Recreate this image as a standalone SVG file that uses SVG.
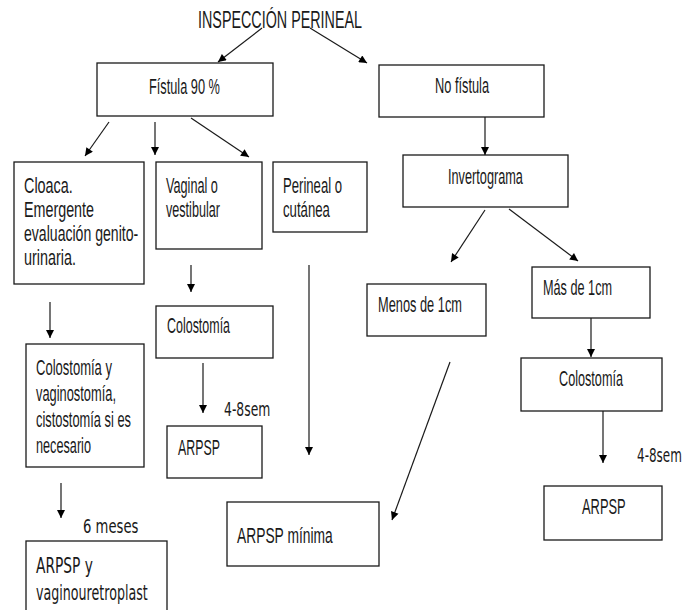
<svg xmlns="http://www.w3.org/2000/svg" width="700" height="610" viewBox="0 0 700 610">
<style>
.box{fill:#fff;stroke:#1a1a1a;stroke-width:1.3}
.t{font-family:"Liberation Sans",Arial,sans-serif;font-size:21.5px;fill:#1a1a1a}
.v{font-family:"DejaVu Sans",Verdana,sans-serif;font-size:21px;fill:#1a1a1a}
.ln{stroke:#1a1a1a;stroke-width:1.2;fill:none;marker-end:url(#ah)}
</style>
<defs>
<marker id="ah" viewBox="0 0 10 10" refX="10" refY="5" markerWidth="9" markerHeight="8" markerUnits="userSpaceOnUse" orient="auto">
<path d="M0,0 L10,5 L0,10 z" fill="#000"/>
</marker>
</defs>
<rect width="700" height="610" fill="#fff"/>
<g id="title"><text class="t" transform="matrix(0.623 0 0 1 198 28)" style="font-size:23px">INSPECCIÓN PERINEAL</text></g>
<g id="fistula"><rect class="box" x="97" y="63" width="176" height="53"/><text class="t" transform="matrix(0.594 0 0 1 149 94)">Fístula 90 %</text></g>
<g id="nofistula"><rect class="box" x="379" y="65" width="165" height="52"/><text class="t" transform="matrix(0.595 0 0 1 435 93)">No fístula</text></g>
<g id="cloaca"><rect class="box" x="14" y="162" width="130" height="122"/>
<text class="t" transform="matrix(0.67 0 0 1 24 193)">Cloaca.</text>
<text class="t" transform="matrix(0.666 0 0 1 24 217)">Emergente</text>
<text class="t" transform="matrix(0.655 0 0 1 24 241)">evaluación genito-</text>
<text class="t" transform="matrix(0.67 0 0 1 24 265)">urinaria.</text></g>
<g id="vaginal"><rect class="box" x="156" y="162" width="106" height="87"/>
<text class="t" transform="matrix(0.59 0 0 1 166 193)">Vaginal o</text>
<text class="t" transform="matrix(0.587 0 0 1 166 217)">vestibular</text></g>
<g id="perineal"><rect class="box" x="273" y="162" width="94" height="70"/>
<text class="t" transform="matrix(0.61 0 0 1 283 193)">Perineal o</text>
<text class="t" transform="matrix(0.614 0 0 1 283 217)">cutánea</text></g>
<g id="invertograma"><rect class="box" x="403" y="155" width="165" height="52"/><text class="t" transform="matrix(0.592 0 0 1 448 184)">Invertograma</text></g>
<g id="menos"><rect class="box" x="367" y="284" width="119" height="52"/><text class="t" transform="matrix(0.596 0 0 1 378 312)">Menos de 1cm</text></g>
<g id="mas"><rect class="box" x="532" y="267" width="118" height="51"/><text class="t" transform="matrix(0.59 0 0 1 543 295)">Más de 1cm</text></g>
<g id="colostomia1"><rect class="box" x="156" y="306" width="117" height="52"/><text class="t" transform="matrix(0.58 0 0 1 167 333)">Colostomía</text></g>
<g id="colostomia2"><rect class="box" x="521" y="358" width="141" height="53"/><text class="t" transform="matrix(0.589 0 0 1 559 386)">Colostomía</text></g>
<g id="colvag"><rect class="box" x="26" y="344" width="118" height="123"/>
<text class="t" transform="matrix(0.606 0 0 1 36 375)">Colostomía y</text>
<text class="t" transform="matrix(0.598 0 0 1 36 401)">vaginostomía,</text>
<text class="t" transform="matrix(0.598 0 0 1 36 427)">cistostomía si es</text>
<text class="t" transform="matrix(0.59 0 0 1 36 453)">necesario</text></g>
<g id="arpsp1"><rect class="box" x="167" y="426" width="95" height="52"/><text class="t" transform="matrix(0.576 0 0 1 178 455)">ARPSP</text></g>
<g id="arpsp2"><rect class="box" x="544" y="486" width="118" height="54"/><text class="t" transform="matrix(0.6 0 0 1 582 514)">ARPSP</text></g>
<g id="arpspmin"><rect class="box" x="227" y="502" width="152" height="64"/><text class="t" transform="matrix(0.643 0 0 1 237 543)">ARPSP mínima</text></g>
<g id="arpspvag"><rect class="box" x="26" y="541" width="141" height="80"/>
<text class="v" transform="matrix(0.657 0 0 1 36 573)">ARPSP y</text>
<text class="v" transform="matrix(0.603 0 0 1 36 600)">vaginouretroplast</text></g>
<g id="labels">
<text class="v" transform="matrix(0.62 0 0 1 224 416)" style="font-size:20px">4-8sem</text>
<text class="v" transform="matrix(0.6 0 0 1 637 462)" style="font-size:20px">4-8sem</text>
<text class="v" transform="matrix(0.66 0 0 1 83 533)" style="font-size:20px">6 meses</text>
</g>
<g id="connectors">
<line class="ln" x1="262" y1="28" x2="218" y2="62"/>
<line class="ln" x1="310" y1="28" x2="367" y2="63"/>
<line class="ln" x1="109" y1="122" x2="85" y2="156"/>
<line class="ln" x1="155" y1="122" x2="155" y2="155"/>
<line class="ln" x1="191" y1="118" x2="249" y2="157"/>
<line class="ln" x1="485" y1="117" x2="485" y2="155"/>
<line class="ln" x1="485" y1="210" x2="451" y2="262"/>
<line class="ln" x1="509" y1="209" x2="578" y2="261"/>
<line class="ln" x1="50" y1="302" x2="50" y2="338"/>
<line class="ln" x1="191" y1="265" x2="191" y2="292"/>
<line class="ln" x1="203" y1="363" x2="203" y2="413"/>
<line class="ln" x1="309" y1="265" x2="309" y2="455"/>
<line class="ln" x1="591" y1="318" x2="591" y2="357"/>
<line class="ln" x1="603" y1="411" x2="603" y2="463"/>
<line class="ln" x1="450" y1="362" x2="392" y2="520"/>
<line class="ln" x1="61" y1="483" x2="61" y2="518"/>
</g>
</svg>
